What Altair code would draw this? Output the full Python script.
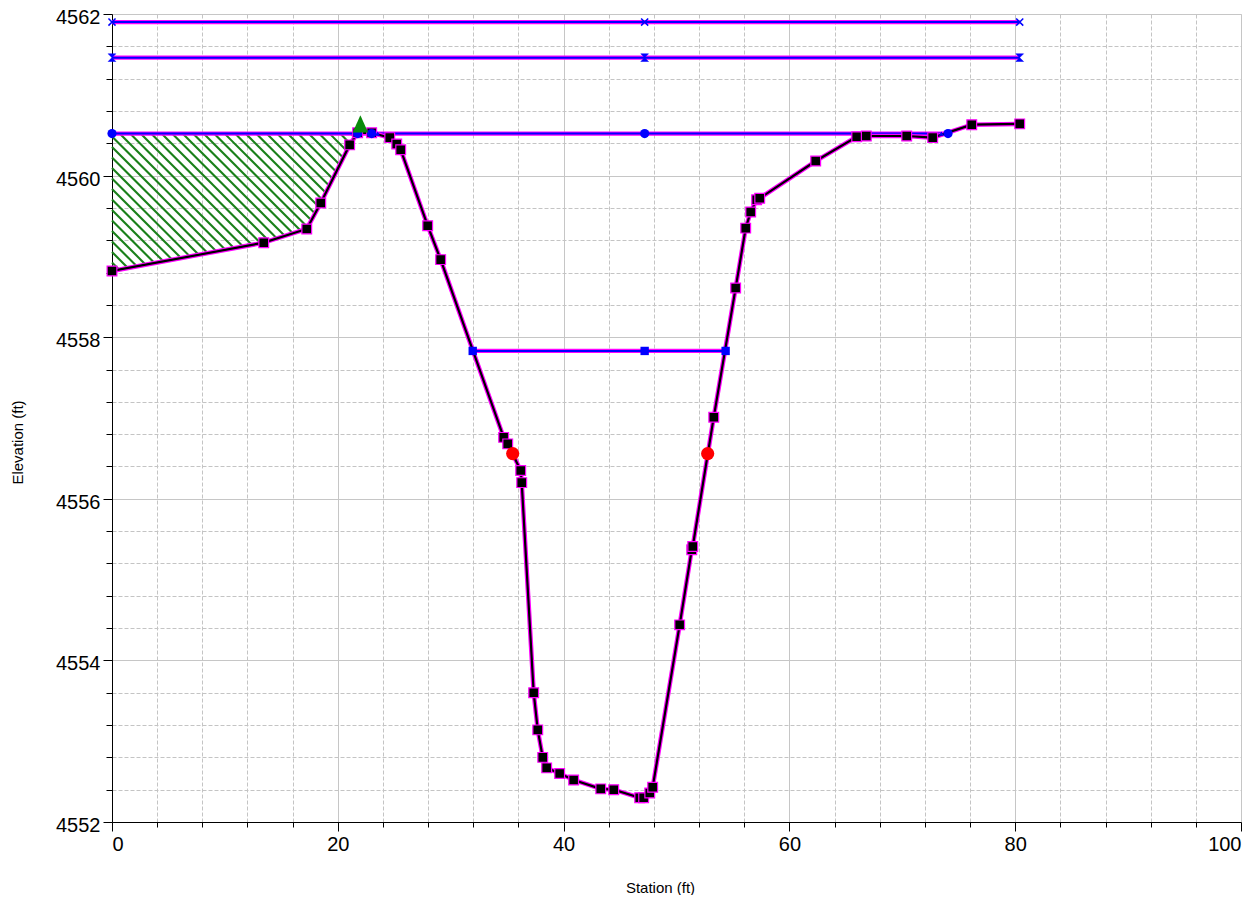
import altair as alt
import pandas as pd
import numpy as np

# ---------------- data ----------------
GROUND_X = [0.0, 13.44, 17.25, 18.49, 21.05, 21.76, 23.00, 24.60, 25.22, 25.57,
            27.96, 29.11, 34.69, 35.05, 36.20, 36.29, 37.35, 37.71, 38.15, 38.50,
            39.65, 40.89, 43.29, 44.44, 46.74, 47.09, 47.63, 47.89, 50.28, 51.35,
            51.44, 53.30, 55.24, 56.13, 56.57, 57.10, 57.37, 62.33, 65.96, 66.81,
            70.39, 72.69, 76.15, 80.40]
GROUND_Y = [4558.82, 4559.17, 4559.34, 4559.66, 4560.38, 4560.53, 4560.53, 4560.47, 4560.39, 4560.32,
            4559.38, 4558.96, 4556.76, 4556.68, 4556.35, 4556.20, 4553.60, 4553.14, 4552.80, 4552.67,
            4552.60, 4552.52, 4552.41, 4552.40, 4552.30, 4552.30, 4552.36, 4552.43, 4554.44, 4555.37,
            4555.41, 4557.01, 4558.61, 4559.35, 4559.55, 4559.70, 4559.72, 4560.18, 4560.48, 4560.49,
            4560.49, 4560.47, 4560.63, 4560.64]

WS_NAMES = ["ws1", "ws2", "ws3", "ws4"]
WS_ELEV = [4561.90, 4561.46, 4560.52, 4557.83]
WS_START = [0.0, 0.0, 0.0, 31.95]
WS_END = [80.40, 80.40, 74.05, 54.35]

WS1_MARK_X = [0.0, 47.18, 80.40]
WS2_MARK_X = [0.0, 47.18, 80.40]
WS3_MARK_X = [0.0, 21.76, 23.00, 47.18, 74.05]
WS4_MARK_X = [31.95, 47.18, 54.35]
WS3_SMALL_X = [23.53, 73.46]

BANK_X = [35.49, 52.76]
BANK_Y = [4556.56, 4556.56]

LEVEE_X = [22.0]
LEVEE_Y = [4560.64]

INEFF_X_END = 21.76
INEFF_ELEV = 4560.52

X_MIN, X_MAX = 0, 100
Y_MIN, Y_MAX = 4552, 4562
X_MAJOR = [0, 20, 40, 60, 80, 100]
Y_MAJOR = [4552, 4554, 4556, 4558, 4560, 4562]
X_MINOR = [v for v in range(0, 101, 4) if v % 20 != 0]
Y_MINOR = [round(4552 + 0.4 * i, 1) for i in range(26) if i % 5 != 0]

PLOT_W, PLOT_H = 1129, 808
FONT = "Liberation Sans"

# ---------------- tables ----------------
ground = pd.DataFrame({"x": GROUND_X, "y": GROUND_Y})

ws_lines = pd.DataFrame(
    [{"x": s, "y": e, "p": n} for n, e, s in zip(WS_NAMES, WS_ELEV, WS_START)]
    + [{"x": t, "y": e, "p": n} for n, e, t in zip(WS_NAMES, WS_ELEV, WS_END)]
)

def marks(xs, elev):
    return pd.DataFrame({"x": xs, "y": [elev] * len(xs)})

ws1_m = marks(WS1_MARK_X, WS_ELEV[0])
ws2_m = marks(WS2_MARK_X, WS_ELEV[1])
ws3_m = marks(WS3_MARK_X, WS_ELEV[2])
ws4_m = marks(WS4_MARK_X, WS_ELEV[3])
ws3_s = marks(WS3_SMALL_X, WS_ELEV[2])
banks = pd.DataFrame({"x": BANK_X, "y": BANK_Y})
levee = pd.DataFrame({"x": LEVEE_X, "y": LEVEE_Y})

# hatch lines (45 degrees on screen) clipped to the ineffective area
SX = PLOT_W / (X_MAX - X_MIN)
SY = PLOT_H / (Y_MAX - Y_MIN)
xs = np.linspace(0, INEFF_X_END, 6000)
gy = np.interp(xs, GROUND_X, GROUND_Y)
rows = []
for c in np.arange(-140, 280, 10.5):
    yl = Y_MAX - (c + xs * SX) / SY
    m = (yl <= INEFF_ELEV) & (yl >= gy)
    if m.sum() > 1:
        i0 = int(np.argmax(m))
        i1 = len(m) - 1 - int(np.argmax(m[::-1]))
        rows.append({"x": xs[i0], "y": yl[i0], "x2": xs[i1], "y2": yl[i1]})
hatch = pd.DataFrame(rows)

# ---------------- scales / axes ----------------
xs_scale = alt.Scale(domain=[X_MIN, X_MAX], nice=False, zero=False)
ys_scale = alt.Scale(domain=[Y_MIN, Y_MAX], nice=False, zero=False)

minor_x_axis = alt.Axis(values=X_MINOR, grid=True, gridColor="#c4c4c4", gridDash=[4, 2],
                        gridWidth=1, ticks=True, tickSize=5, tickColor="black",
                        labels=False, domain=False, title=None, orient="bottom")
minor_y_axis = alt.Axis(values=Y_MINOR, grid=True, gridColor="#c4c4c4", gridDash=[4, 2],
                        gridWidth=1, ticks=True, tickSize=6, tickColor="black",
                        labels=False, domain=False, title=None, orient="left")
major_x_axis = alt.Axis(values=X_MAJOR, grid=True, gridColor="#c6c6c6", gridWidth=1,
                        ticks=True, tickSize=9, tickColor="black", domain=True,
                        domainColor="black", labels=True, format="d", labelFont=FONT,
                        labelFontSize=20, labelColor="black", labelPadding=3,
                        title="Station (ft)", titleFont=FONT, titleFontSize=15,
                        titleFontWeight="normal", titleColor="black",
                        titleX=548, titleY=65, titleAlign="center", titleBaseline="middle",
                        orient="bottom")
major_y_axis = alt.Axis(values=Y_MAJOR, grid=True, gridColor="#c6c6c6", gridWidth=1,
                        ticks=True, tickSize=9, tickColor="black", domain=True,
                        domainColor="black", labels=True, format="d", labelFont=FONT,
                        labelFontSize=20, labelColor="black", labelPadding=3, labelOffset=3.5,
                        title="Elevation (ft)", titleFont=FONT, titleFontSize=15,
                        titleFontWeight="normal", titleColor="black",
                        titleX=-95, titleY=428, titleAlign="center", titleBaseline="middle",
                        orient="left")

def X(axis=None):
    return alt.X("x:Q", scale=xs_scale, axis=axis)

def Y(axis=None):
    return alt.Y("y:Q", scale=ys_scale, axis=axis)

# ---------------- layers ----------------
hatch_layer = alt.Chart(hatch).mark_rule(color="#1a801a", strokeWidth=2.1).encode(
    x=X(minor_x_axis), y=Y(minor_y_axis), x2="x2:Q", y2="y2:Q")

ws_mag = alt.Chart(ws_lines).mark_line(color="#ff00ff", strokeWidth=4.2).encode(
    x=X(major_x_axis), y=Y(major_y_axis), detail="p:N")
ws_blue = alt.Chart(ws_lines).mark_line(color="#0000ff", strokeWidth=2).encode(
    x=X(), y=Y(), detail="p:N")

ground_mag = alt.Chart(ground).mark_line(color="#ff00ff", strokeWidth=4.5).encode(x=X(), y=Y())
ground_blk = alt.Chart(ground).mark_line(color="black", strokeWidth=2.2).encode(x=X(), y=Y())
ground_pts = alt.Chart(ground).mark_point(
    shape="square", filled=True, fill="black", stroke="#ff00ff", strokeWidth=1.2,
    size=95, opacity=1).encode(x=X(), y=Y())

ws1_layer = alt.Chart(ws1_m).mark_point(
    shape="M-1,-1L1,1M-1,1L1,-1", filled=False, stroke="#0000ff", strokeWidth=1.5,
    size=50, opacity=1).encode(x=X(), y=Y())
ws2_layer = alt.Chart(ws2_m).mark_point(
    shape="M-1,-1L1,-1L-1,1L1,1Z", filled=True, fill="#0000ff", stroke="#0000ff",
    strokeWidth=0.5, size=60, opacity=1).encode(x=X(), y=Y())
ws3_layer = alt.Chart(ws3_m).mark_point(
    shape="circle", filled=True, fill="#0000ff", size=85, opacity=1).encode(x=X(), y=Y())
ws3_small = alt.Chart(ws3_s).mark_point(
    shape="triangle-up", filled=True, fill="#0000ff", size=25, opacity=1).encode(x=X(), y=Y())
ws4_layer = alt.Chart(ws4_m).mark_point(
    shape="square", filled=True, fill="#0000ff", size=70, opacity=1).encode(x=X(), y=Y())

bank_layer = alt.Chart(banks).mark_point(
    shape="circle", filled=True, fill="#ff0000", size=175, opacity=1).encode(x=X(), y=Y())
levee_layer = alt.Chart(levee).mark_point(
    shape="M0,-1L0.9,1L-0.9,1Z", filled=True, fill="#0a8a0a", size=296, opacity=1).encode(x=X(), y=Y())

chart = alt.layer(
    hatch_layer, ws_mag, ws_blue, ground_mag, ground_blk, ground_pts,
    ws1_layer, ws2_layer, ws3_layer, ws3_small, ws4_layer, bank_layer, levee_layer
).resolve_axis(x="independent", y="independent").properties(
    width=PLOT_W, height=PLOT_H,
    autosize=alt.AutoSizeParams(type="none"),
    padding={"left": 104, "top": 6, "right": 8, "bottom": 73},
).configure_view(stroke=None).configure(background="white")

chart.save("out.html", embed_options={"renderer": "svg", "actions": False})
